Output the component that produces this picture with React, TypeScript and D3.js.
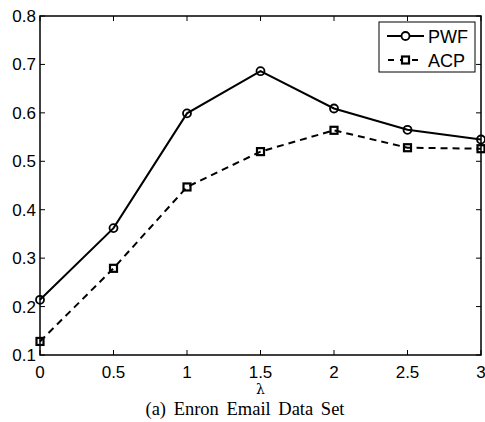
import React, { useRef, useEffect } from "react";
import * as d3 from "d3";

const lambdas = [0, 0.5, 1, 1.5, 2, 2.5, 3];
const pwf = [0.214, 0.362, 0.599, 0.686, 0.609, 0.565, 0.545];
const acp = [0.128, 0.279, 0.447, 0.52, 0.564, 0.528, 0.526];
const xTicks = [0, 0.5, 1, 1.5, 2, 2.5, 3];
const yTicks = [0.1, 0.2, 0.3, 0.4, 0.5, 0.6, 0.7, 0.8];

const App = () => {
  const chartRef = useRef<SVGSVGElement>(null);

  useEffect(() => {
    document.body.style.margin = "0";
    const svg = d3.select(chartRef.current);
    svg.selectAll("*").remove();

    const width = 485;
    const height = 422;
    const left = 40, right = 481, top = 16, bottom = 355;
    const font = "'Liberation Sans', Arial, sans-serif";

    const x = d3.scaleLinear().domain([0, 3]).range([left, right]);
    const y = d3.scaleLinear().domain([0.1, 0.8]).range([bottom, top]);

    svg.attr("width", width).attr("height", height);

    // white background
    svg.append("rect").attr("width", width).attr("height", height).attr("fill", "#fff");

    const tickLen = 5;
    const axes = svg.append("g").attr("stroke", "#000").attr("stroke-width", 1);

    // ticks (inward, on all four sides)
    xTicks.forEach((t) => {
      axes.append("line").attr("x1", x(t)).attr("x2", x(t)).attr("y1", bottom).attr("y2", bottom - tickLen);
      axes.append("line").attr("x1", x(t)).attr("x2", x(t)).attr("y1", top).attr("y2", top + tickLen);
    });
    yTicks.forEach((t) => {
      axes.append("line").attr("x1", left).attr("x2", left + tickLen).attr("y1", y(t)).attr("y2", y(t));
      axes.append("line").attr("x1", right).attr("x2", right - tickLen).attr("y1", y(t)).attr("y2", y(t));
    });

    // box
    axes.append("rect")
      .attr("x", left)
      .attr("y", top)
      .attr("width", right - left)
      .attr("height", bottom - top)
      .attr("fill", "none")
      .attr("stroke-width", 1.5);

    // tick labels
    svg.append("g")
      .selectAll("text")
      .data(xTicks)
      .enter()
      .append("text")
      .attr("x", (d) => x(d))
      .attr("y", 378)
      .attr("text-anchor", "middle")
      .style("font-family", font)
      .style("font-size", "17px")
      .text((d) => String(d));

    svg.append("g")
      .selectAll("text")
      .data(yTicks)
      .enter()
      .append("text")
      .attr("x", 36)
      .attr("y", (d) => y(d) + 6)
      .attr("text-anchor", "end")
      .style("font-family", font)
      .style("font-size", "17px")
      .text((d) => d.toFixed(1));

    // axis label
    svg.append("text")
      .attr("x", (left + right) / 2)
      .attr("y", 394)
      .attr("text-anchor", "middle")
      .style("font-family", "'DejaVu Serif', serif")
      .style("font-size", "14px")
      .text("λ");

    // caption
    svg.append("text")
      .attr("x", 245)
      .attr("y", 415)
      .attr("text-anchor", "middle")
      .style("font-family", "'Liberation Serif', 'Times New Roman', serif")
      .style("font-size", "18.5px")
      .style("word-spacing", "3px")
      .text("(a) Enron Email Data Set");

    const line = d3.line<number>()
      .x((_, i) => x(lambdas[i]))
      .y((d) => y(d));

    const plot = svg.append("g");

    plot.append("path")
      .attr("d", line(pwf))
      .attr("fill", "none")
      .attr("stroke", "#000")
      .attr("stroke-width", 2);

    plot.append("path")
      .attr("d", line(acp))
      .attr("fill", "none")
      .attr("stroke", "#000")
      .attr("stroke-width", 2)
      .attr("stroke-dasharray", "7,5");

    plot.selectAll("circle.pwf")
      .data(pwf)
      .enter()
      .append("circle")
      .attr("cx", (_, i) => x(lambdas[i]))
      .attr("cy", (d) => y(d))
      .attr("r", 4)
      .attr("fill", "none")
      .attr("stroke", "#000")
      .attr("stroke-width", 1.8);

    const sq = 7;
    plot.selectAll("rect.acp")
      .data(acp)
      .enter()
      .append("rect")
      .attr("x", (_, i) => x(lambdas[i]) - sq / 2)
      .attr("y", (d) => y(d) - sq / 2)
      .attr("width", sq)
      .attr("height", sq)
      .attr("fill", "none")
      .attr("stroke", "#000")
      .attr("stroke-width", 2.2);

    // legend
    const lg = svg.append("g");
    lg.append("rect")
      .attr("x", 379)
      .attr("y", 22)
      .attr("width", 96)
      .attr("height", 50)
      .attr("fill", "#fff")
      .attr("stroke", "#000")
      .attr("stroke-width", 1);

    const rows = [
      { label: "PWF", y: 36, dash: null as string | null, marker: "circle" },
      { label: "ACP", y: 60, dash: "7,5", marker: "square" },
    ];
    rows.forEach((r) => {
      const ln = lg.append("line")
        .attr("x1", 387)
        .attr("x2", 424)
        .attr("y1", r.y)
        .attr("y2", r.y)
        .attr("stroke", "#000")
        .attr("stroke-width", 2);
      if (r.dash) ln.attr("stroke-dasharray", "6,6").attr("stroke-dashoffset", -1);
      if (r.marker === "circle") {
        lg.append("circle")
          .attr("cx", 405.5).attr("cy", r.y).attr("r", 4)
          .attr("fill", "#fff").attr("stroke", "#000").attr("stroke-width", 1.8);
      } else {
        lg.append("rect")
          .attr("x", 405.5 - sq / 2).attr("y", r.y - sq / 2)
          .attr("width", sq).attr("height", sq)
          .attr("fill", "#fff").attr("stroke", "#000").attr("stroke-width", 2.2);
      }
      lg.append("text")
        .attr("x", 428)
        .attr("y", r.y + 7)
        .style("font-family", font)
        .style("font-size", "18px")
        .text(r.label);
    });
  }, []);

  return <svg ref={chartRef} style={{ display: "block" }}></svg>;
};

export default App;
